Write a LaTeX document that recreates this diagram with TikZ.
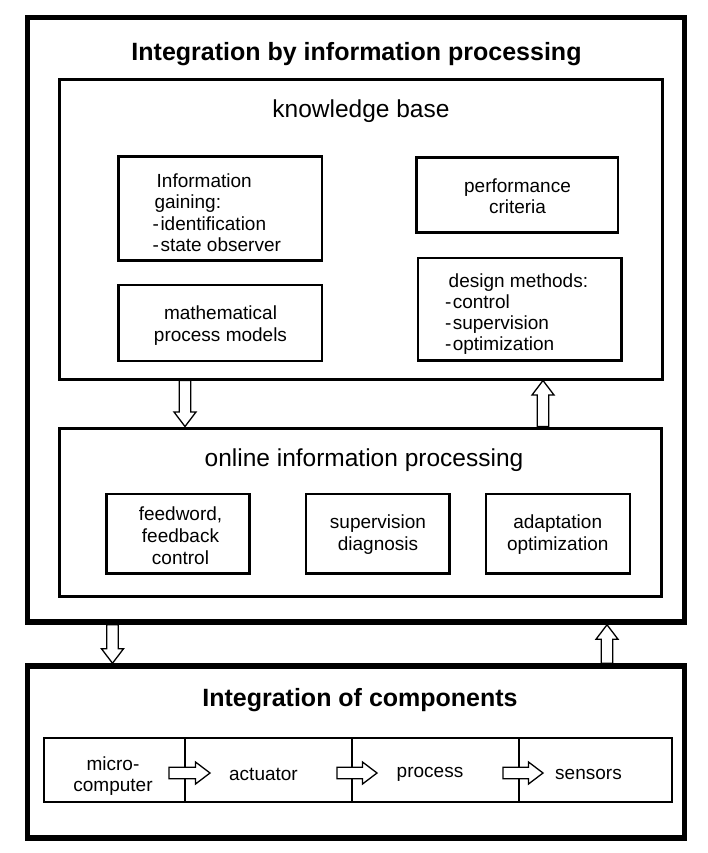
\documentclass[tikz,border=0pt]{standalone}
\usepackage{fontspec}
\setmainfont{Liberation Sans}
\usetikzlibrary{calc,fit}
\tikzset{
  thickbox/.style={draw, line width=5.5pt, inner sep=0pt},
  midbox/.style={draw, line width=3pt, inner sep=0pt},
  smallbox/.style={draw, line width=2.8pt, inner sep=0pt},
  cellbox/.style={draw, line width=2.5pt, inner sep=0pt},
  barrow/.style={draw, fill=white, line width=1.3pt, line join=miter},
  bigbold/.style={font=\fontsize{25}{30}\selectfont\bfseries, inner sep=0pt, anchor=base},
  midtext/.style={font=\fontsize{24.5}{29}\selectfont, inner sep=0pt, anchor=base},
  smalltext/.style={font=\fontsize{19}{21.5}\selectfont, inner sep=0pt, anchor=base},
}
\newcommand\blockarr[2]{%
  \coordinate (bah) at ($(#2)!14.5pt!(#1)$);
  \draw[barrow] ($(#1)!5.75pt!90:(#2)$) -- ($(bah)!5.75pt!90:(#2)$) -- ($(bah)!11pt!90:(#2)$)
    -- (#2) -- ($(bah)!11pt!-90:(#2)$) -- ($(bah)!5.75pt!-90:(#2)$) -- ($(#1)!5.75pt!-90:(#2)$) -- cycle;}
\begin{document}
\begin{tikzpicture}[x=1pt,y=-1pt]
\useasboundingbox (0,0) rectangle (708,853);
% boxes
\node[thickbox, fit={(27.5,17.5) (684.5,622)}] (outer1) {};
\node[midbox, fit={(59,80) (662,379)}] (kb) {};
\node[smallbox, fit={(118.5,156.5) (322,260.5)}] (info) {};
\node[smallbox, fit={(118.5,285) (322,361)}] (math) {};
\node[smallbox, fit={(416.5,157.5) (618,232.5)}] (perf) {};
\node[smallbox, fit={(418,258) (621.5,360.5)}] (design) {};
\node[midbox, fit={(59,428) (661,596)}] (online) {};
\node[smallbox, fit={(106.5,494) (249.5,573.5)}] (feed) {};
\node[smallbox, fit={(306,494) (449.5,573.5)}] (sup) {};
\node[smallbox, fit={(486,494) (630,573.5)}] (adapt) {};
\node[thickbox, fit={(27.5,666) (684.5,838)}] (outer2) {};
\node[cellbox, fit={(44,738) (185,802)}] (c1) {};
\node[cellbox, fit={(185,738) (352,802)}] (c2) {};
\node[cellbox, fit={(352,738) (519,802)}] (c3) {};
\node[cellbox, fit={(519,738) (672,802)}] (c4) {};
% texts
\node[bigbold] (t1) at (356.5,61) {Integration by information processing};
\node[midtext] (kbt) at (361,117.3) {knowledge base};
\node[smalltext, anchor=base west, font=\fontsize{19}{21.3}\selectfont] (infot) at (152.5,187.5)
  {\begin{tabular}[t]{@{}l@{}}\hspace{4pt}Information\\\hspace{1.8pt}gaining:\\-\hspace{1.5pt}identification\\-\hspace{1.5pt}state observer\end{tabular}};
\node[smalltext, font=\fontsize{19}{22}\selectfont] (matht) at (220.5,319)
  {\begin{tabular}[t]{@{}c@{}}mathematical\\process models\end{tabular}};
\node[smalltext, font=\fontsize{19}{21.3}\selectfont] (perft) at (517.5,192.5)
  {\begin{tabular}[t]{@{}c@{}}performance\\criteria\end{tabular}};
\node[smalltext, anchor=base west, font=\fontsize{19}{21}\selectfont] (designt) at (444.8,287.5)
  {\begin{tabular}[t]{@{}l@{}}\hspace{3.7pt}design methods:\\-\hspace{1.5pt}control\\-\hspace{1.5pt}supervision\\-\hspace{1.5pt}optimization\end{tabular}};
\node[midtext] (onlinet) at (364,466.5) {online information processing};
\node[smalltext, font=\fontsize{19}{22.3}\selectfont] (feedt) at (180.5,520.3)
  {\begin{tabular}[t]{@{}c@{}}feedword,\\feedback\\control\end{tabular}};
\node[smalltext, font=\fontsize{19}{21.8}\selectfont] (supt) at (378,528.6)
  {\begin{tabular}[t]{@{}c@{}}supervision\\diagnosis\end{tabular}};
\node[smalltext, font=\fontsize{19}{21.8}\selectfont] (adaptt) at (557.7,528.6)
  {\begin{tabular}[t]{@{}c@{}}adaptation\\optimization\end{tabular}};
\node[bigbold] (t2) at (360,706.7) {Integration of components};
\node[smalltext, font=\fontsize{19}{21}\selectfont] (microt) at (113,770)
  {\begin{tabular}[t]{@{}c@{}}micro-\\computer\end{tabular}};
\node[smalltext] (actt) at (263.5,780) {actuator};
\node[smalltext] (proct) at (430,777) {process};
\node[smalltext] (senst) at (588.5,779) {sensors};
% vertical block arrows
\coordinate (a1x) at (185,0);
\coordinate (a2x) at (543,0);
\coordinate (a3x) at (112.5,0);
\coordinate (a4x) at (607,0);
\coordinate (a1s) at (kb.south -| a1x);
\coordinate (a1e) at (online.north -| a1x);
\coordinate (a2s) at (online.north -| a2x);
\coordinate (a2e) at (kb.south -| a2x);
\coordinate (a3s) at (outer1.south -| a3x);
\coordinate (a3e) at (outer2.north -| a3x);
\coordinate (a4s) at (outer2.north -| a4x);
\coordinate (a4e) at (outer1.south -| a4x);
\blockarr{a1s}{a1e}
\blockarr{a2s}{a2e}
\blockarr{a3s}{a3e}
\blockarr{a4s}{a4e}
% horizontal block arrows in the component row
\coordinate (r1a) at (169,773);
\coordinate (r1b) at (210,773);
\coordinate (r2a) at (337,773);
\coordinate (r2b) at (377,773);
\coordinate (r3a) at (503,773);
\coordinate (r3b) at (543,773);
\blockarr{r1a}{r1b}
\blockarr{r2a}{r2b}
\blockarr{r3a}{r3b}
\end{tikzpicture}
\end{document}
